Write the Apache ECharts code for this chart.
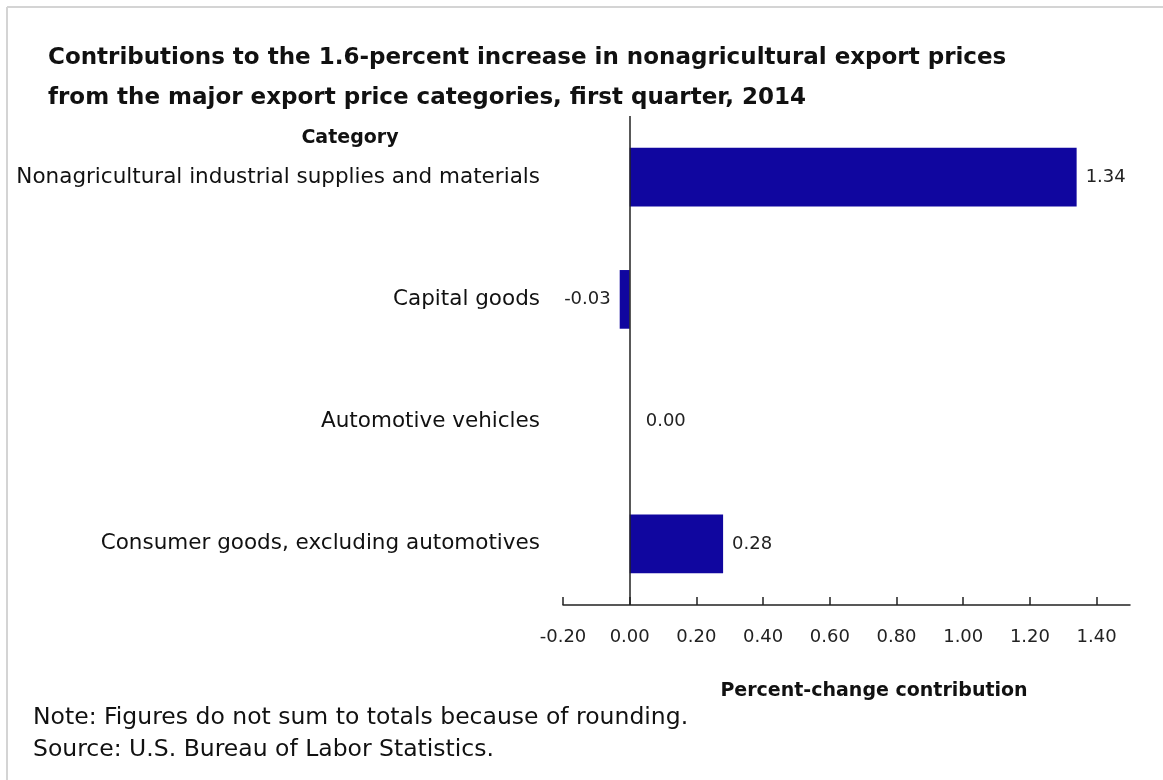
<!DOCTYPE html>
<html>
<head>
<meta charset="utf-8">
<script src="https://cdn.jsdelivr.net/npm/echarts@6/dist/echarts.min.js"></script>
<style>html,body{margin:0;padding:0;background:#fff;}#chart{width:1163px;height:780px;}</style>
</head>
<body>
<div id="chart"></div>
<script>
const categories = [
  'Nonagricultural industrial supplies and materials',
  'Capital goods',
  'Automotive vehicles',
  'Consumer goods, excluding automotives'
];
const values = [1.34, -0.03, 0.00, 0.28];
const tickValues = [-0.2, 0, 0.2, 0.4, 0.6, 0.8, 1.0, 1.2, 1.4];
const titleLines = [
  'Contributions to the 1.6-percent increase in nonagricultural export prices',
  'from the major export price categories, first quarter, 2014'
];
const notes = [
  'Note: Figures do not sum to totals because of rounding.',
  'Source: U.S. Bureau of Labor Statistics.'
];

const chart = echarts.init(document.getElementById('chart'));
const barColor = '#10069f';
const labelFont = { fontFamily: 'DejaVu Sans', fontSize: 18, color: '#222' };

chart.setOption({
  animation: false,
  backgroundColor: '#fff',
  grid: { left: 563, right: 33, top: 116, height: 489, containLabel: false },
  xAxis: {
    type: 'value',
    min: -0.2,
    max: 1.5,
    interval: 0.2,
    axisLine: { show: true, onZero: false, lineStyle: { color: '#222', width: 1.5 } },
    axisTick: { show: true, inside: true, length: 8, customValues: tickValues, lineStyle: { color: '#222', width: 1.5 } },
    axisLabel: { customValues: tickValues, margin: 23, formatter: v => v.toFixed(2), ...labelFont },
    splitLine: { show: false }
  },
  yAxis: {
    type: 'category',
    inverse: true,
    data: categories,
    axisLine: { show: false, onZero: false },
    axisTick: { show: false },
    axisLabel: { margin: 23, fontFamily: 'DejaVu Sans', fontSize: 21.5, color: '#111' }
  },
  series: [{
    type: 'bar',
    barWidth: '48%',
    itemStyle: { color: barColor },
    data: values.map(v => ({
      value: v,
      label: { position: v < 0 ? 'left' : 'right', distance: v === 0 ? 16 : 9 }
    })),
    label: { show: true, formatter: p => p.value.toFixed(2), ...labelFont },
    markLine: {
      silent: true,
      symbol: 'none',
      label: { show: false },
      lineStyle: { color: '#222', width: 1.5, type: 'solid' },
      data: [{ xAxis: 0 }]
    }
  }],
  graphic: [
    { type: 'line', shape: { x1: 7, y1: 7, x2: 1163, y2: 7 }, style: { stroke: '#d4d4d4', lineWidth: 2 } },
    { type: 'line', shape: { x1: 7, y1: 7, x2: 7, y2: 780 }, style: { stroke: '#d4d4d4', lineWidth: 2 } },
    { type: 'text', x: 48, y: 47, style: { text: titleLines[0], font: 'bold 23px "DejaVu Sans"', fill: '#111', verticalAlign: 'alphabetic' } },
    { type: 'text', x: 48, y: 87, style: { text: titleLines[1], font: 'bold 23px "DejaVu Sans"', fill: '#111', verticalAlign: 'alphabetic' } },
    { type: 'text', x: 350, y: 138, style: { text: 'Category', font: 'bold 19px "DejaVu Sans"', fill: '#111', align: 'center', verticalAlign: 'middle' } },
    { type: 'text', x: 874, y: 691, style: { text: 'Percent-change contribution', font: 'bold 19px "DejaVu Sans"', fill: '#111', align: 'center', verticalAlign: 'middle' } },
    { type: 'text', x: 33, y: 718, style: { text: notes[0], font: '23.5px "DejaVu Sans"', fill: '#111', verticalAlign: 'middle' } },
    { type: 'text', x: 33, y: 750, style: { text: notes[1], font: '23.5px "DejaVu Sans"', fill: '#111', verticalAlign: 'middle' } }
  ]
});
</script>
</body>
</html>
